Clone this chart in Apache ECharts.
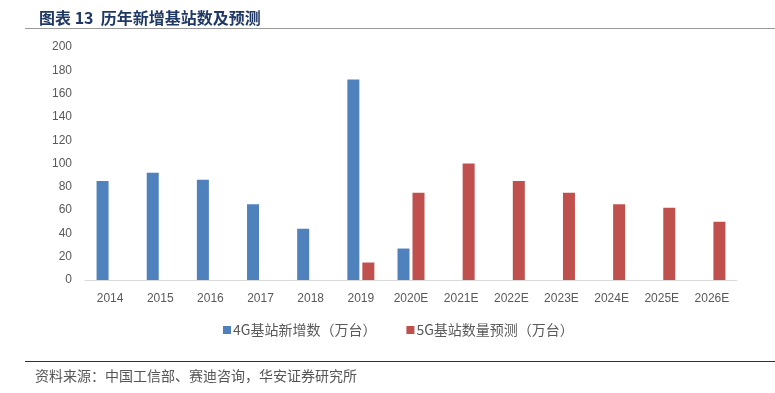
<!DOCTYPE html>
<html>
<head>
<meta charset="utf-8">
<style>
  html, body { margin: 0; padding: 0; background: #fff; }
  #chart { width: 775px; height: 393px; }
</style>
<script src="https://cdn.jsdelivr.net/npm/echarts@6/dist/echarts.min.js"></script>
</head>
<body>
<div id="chart"></div>
<script>
// Datos
const categories = ['2014', '2015', '2016', '2017', '2018', '2019', '2020E', '2021E', '2022E', '2023E', '2024E', '2025E', '2026E'];
const values4G = [85, 92, 86, 65, 44, 172, 27, null, null, null, null, null, null];
const values5G = [null, null, null, null, null, 15, 75, 100, 85, 75, 65, 62, 50];
const yTicks = [0, 200, 20]; // min, max, interval

const chart = echarts.init(document.getElementById('chart'));

const option = {
    animation: false,
    title: {
        text: '图表 13  历年新增基站数及预测',
        left: 34,
        top: 5,
        textStyle: {
            color: '#1F3864',
            fontSize: 16,
            fontWeight: 'bold',
            fontFamily: 'Noto Sans CJK SC'
        }
    },
    graphic: [
        // línea bajo el título
        { type: 'line', shape: { x1: 25, y1: 28.5, x2: 775, y2: 28.5 }, style: { stroke: '#9a9a9a', lineWidth: 1 } },
        // línea sobre la fuente
        { type: 'line', shape: { x1: 25, y1: 361.5, x2: 775, y2: 361.5 }, style: { stroke: '#333', lineWidth: 1 } },
        {
            type: 'text', left: 35, top: 369,
            style: { text: '资料来源：中国工信部、赛迪咨询，华安证券研究所', fill: '#555', fontSize: 14, fontFamily: 'Noto Sans CJK SC' }
        }
    ],
    legend: {
        bottom: 51,
        left: 218,
        itemWidth: 8,
        itemHeight: 8,
        itemGap: 30,
        icon: 'rect',
        textStyle: { color: '#595959', fontSize: 14, fontFamily: 'Noto Sans CJK SC', padding: [0, 0, 0, -3] },
        data: ['4G基站新增数（万台）', '5G基站数量预测（万台）']
    },
    grid: { left: 85, right: 38, top: 47, bottom: 113 },
    xAxis: {
        type: 'category',
        data: categories,
        axisLine: { lineStyle: { color: '#D9D9D9' } },
        axisTick: { show: false },
        axisLabel: { color: '#595959', fontSize: 12, margin: 13, fontFamily: 'Liberation Sans' }
    },
    yAxis: {
        type: 'value',
        min: yTicks[0],
        max: yTicks[1],
        interval: yTicks[2],
        axisLine: { show: false },
        axisTick: { show: false },
        splitLine: { show: false },
        axisLabel: { color: '#595959', fontSize: 12, margin: 13, fontFamily: 'Liberation Sans' }
    },
    series: [
        {
            name: '4G基站新增数（万台）',
            type: 'bar',
            data: values4G,
            barWidth: 12,
            barGap: '25%',
            itemStyle: { color: '#4F81BD' }
        },
        {
            name: '5G基站数量预测（万台）',
            type: 'bar',
            data: values5G,
            barWidth: 12,
            itemStyle: { color: '#C0504D' }
        }
    ]
};

chart.setOption(option);
</script>
</body>
</html>
